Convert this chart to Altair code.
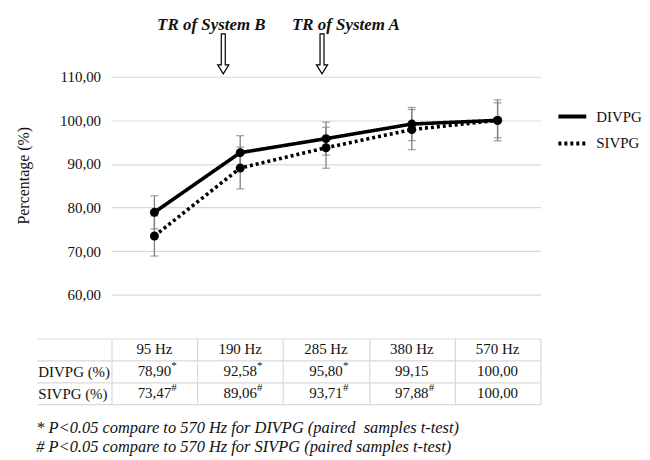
import altair as alt
import pandas as pd

# ---------------- data ----------------
freqs = ["95 Hz", "190 Hz", "285 Hz", "380 Hz", "570 Hz"]
series_names = ["DIVPG", "SIVPG"]
divpg = [78.90, 92.58, 95.80, 99.15, 100.00]
sivpg = [73.47, 89.06, 93.71, 97.88, 100.00]
divpg_sd = [3.8, 3.9, 3.8, 3.8, 4.0]
sivpg_sd = [4.6, 4.8, 4.7, 4.6, 4.7]
divpg_sig = ["*", "*", "*", "", ""]
sivpg_sig = ["#", "#", "#", "#", ""]
row_labels = ["DIVPG (%)", "SIVPG (%)"]
y_ticks = [60, 70, 80, 90, 100, 110]
ann_freq = ["190 Hz", "285 Hz"]
ann_text = ["TR of System B", "TR of System A"]
footnotes = [
    "* P<0.05 compare to 570 Hz for DIVPG (paired\u00a0 samples t-test)",
    "# P<0.05 compare to 570 Hz for SIVPG (paired samples t-test)",
]

FONT = "Liberation Serif"
GRID = "#d9d9d9"
TXT = "#111111"

rows = []
for name, vals, sds, sig, lab in zip(series_names, [divpg, sivpg], [divpg_sd, sivpg_sd],
                                     [divpg_sig, sivpg_sig], row_labels):
    for f, v, s, g in zip(freqs, vals, sds, sig):
        rows.append(dict(freq=f, series=name, value=v, lo=v - s, hi=v + s, row=lab,
                         text=f"{v:.2f}".replace(".", ","), sig=g))
df = pd.DataFrame(rows)
header_df = pd.DataFrame({"freq": freqs, "row": [""] * len(freqs), "text": freqs})
ann_df = pd.DataFrame({"freq": ann_freq, "label": ann_text})

# ---------------- top chart ----------------
xenc = alt.X("freq:N", sort=freqs, scale=alt.Scale(domain=freqs, paddingInner=0, paddingOuter=0), axis=None)

yaxis = alt.Axis(values=y_ticks, labelExpr="replace(format(datum.value,'.2f'),'.',',')",
                 title="Percentage (%)", grid=True, gridColor=GRID, gridWidth=1.2, ticks=False,
                 domain=False, labelPadding=11, labelFontSize=15, labelColor=TXT,
                 titleFontSize=16, titleFontWeight="normal", titleColor=TXT, titleAngle=270,
                 titleX=-88, titleY=99, titleAlign="center", titleBaseline="middle")
yscale = alt.Scale(domain=[60, 110], nice=False, zero=False)


def ych(field):
    return alt.Y(field, scale=yscale, axis=yaxis)


base = alt.Chart(df).encode(x=xenc)
err = base.mark_rule(color="#808080", strokeWidth=1.3).encode(y=ych("lo:Q"), y2="hi:Q")
cap_lo = base.mark_tick(color="#808080", thickness=1.3, size=8).encode(y=ych("lo:Q"))
cap_hi = base.mark_tick(color="#808080", thickness=1.3, size=8).encode(y=ych("hi:Q"))
line = base.mark_line(color="black", strokeWidth=3.6).encode(
    y=ych("value:Q"),
    strokeDash=alt.StrokeDash(
        "series:N",
        scale=alt.Scale(domain=series_names, range=[[1, 0], [3, 3]]),
        legend=alt.Legend(title=None, orient="none", legendX=447, legendY=24,
                          symbolType="stroke", symbolSize=784, symbolStrokeWidth=4,
                          symbolStrokeColor="black", labelFontSize=15, labelFont=FONT,
                          labelColor=TXT, labelOffset=8, rowPadding=3),
    ),
)
points = base.mark_point(filled=True, size=80, color="black", opacity=1).encode(
    y=ych("value:Q"), detail="series:N")

ARROW = "M -0.1 -1 L 0.1 -1 L 0.1 0.55 L 0.28 0.55 L 0 1 L -0.28 0.55 L -0.1 0.55 Z"
annB = alt.Chart(ann_df).transform_filter(alt.datum.label == ann_text[0])
annA = alt.Chart(ann_df).transform_filter(alt.datum.label == ann_text[1])
arrowB = annB.mark_point(shape=ARROW, size=1600, filled=False, stroke="black", strokeWidth=1.2,
                         opacity=1, xOffset=-17).encode(x=xenc, y=alt.value(-23))
arrowA = annA.mark_point(shape=ARROW, size=1600, filled=False, stroke="black", strokeWidth=1.2,
                         opacity=1, xOffset=-4).encode(x=xenc, y=alt.value(-23))
textB = annB.mark_text(font=FONT, fontSize=17, fontWeight="bold", fontStyle="italic", dx=-29,
                       baseline="top", color=TXT).encode(x=xenc, y=alt.value(-60), text="label:N")
textA = annA.mark_text(font=FONT, fontSize=17, fontWeight="bold", fontStyle="italic", dx=20,
                       baseline="top", color=TXT).encode(x=xenc, y=alt.value(-60), text="label:N")

top = alt.layer(err, cap_lo, cap_hi, line, points, arrowB, arrowA, textB, textA).properties(
    width=431, height=219)

# ---------------- table ----------------
tX = alt.X("freq:N", sort=freqs, scale=alt.Scale(domain=freqs, paddingInner=0, paddingOuter=0),
           axis=alt.Axis(title=None, labels=False, ticks=False, domain=False, grid=True,
                         gridColor=GRID, gridWidth=1.2, tickBand="extent"))
row_domain = [""] + row_labels
tY = alt.Y("row:N", sort=row_domain, scale=alt.Scale(domain=row_domain, paddingInner=0, paddingOuter=0),
           axis=alt.Axis(title=None, tickBand="extent", ticks=True, tickSize=75, tickColor=GRID,
                         tickWidth=1.2, grid=True, gridColor=GRID, gridWidth=1.2, domain=False,
                         labelAlign="left", labelPadding=-1, labelFontSize=15, labelColor=TXT,
                         labelFont=FONT))

header = alt.Chart(header_df).mark_text(font=FONT, fontSize=15, color=TXT).encode(
    x=tX, y=tY, text="text:N")
values = alt.Chart(df).mark_text(font=FONT, fontSize=15, color=TXT).encode(
    x=tX, y=tY, text="text:N")
sigs = alt.Chart(df).mark_text(font=FONT, fontSize=11, color=TXT, dx=17, dy=-5, align="left").encode(
    x=tX, y=tY, text="sig:N")

table = alt.layer(header, values, sigs).properties(
    width=431, height=66,
    title=alt.TitleParams(footnotes, orient="bottom", anchor="start", frame="bounds", fontSize=16.5,
                          fontStyle="italic", fontWeight="normal", font=FONT, lineHeight=19,
                          offset=15, color=TXT),
)

chart = alt.vconcat(top, table, spacing=44, bounds="flush").configure(
    font=FONT, padding={"left": 8, "top": 7, "right": 0, "bottom": 0}
).configure_view(stroke=None)

chart.save("out.html", embed_options={"renderer": "svg", "actions": False})
